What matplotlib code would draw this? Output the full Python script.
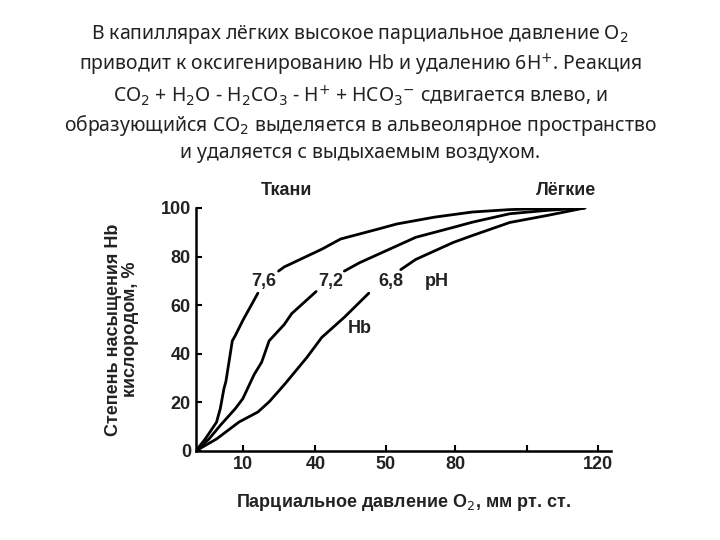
import matplotlib
matplotlib.use("Agg")
import matplotlib.pyplot as plt

# x in chart-position units (origin at 0), y in % saturation
x76 = [0, 25, 55, 65, 75, 80, 90, 97, 105, 125, 135, 165]
y76 = [0, 4.9, 11.8, 17.4, 25.8, 28.6, 38.4, 45.3, 47.5, 53.7, 56.5, 64.9]
x76b = [220, 235, 335, 385, 485, 535, 635, 735, 835, 935, 1035]
y76b = [74, 75.7, 83, 87.2, 91.3, 93.4, 96.2, 98.3, 99.3, 99.8, 100]
x72 = [0, 35, 65, 105, 125, 155, 175, 195, 235, 255, 320]
y72 = [0, 4.9, 10.5, 17.4, 21.5, 31.4, 36.5, 45.3, 52, 56.5, 65.6]
x72b = [395, 435, 535, 585, 685, 735, 835, 935, 1035]
y72b = [74, 77.4, 84.4, 87.9, 92, 94.1, 97.6, 99, 100]
x68 = [0, 55, 115, 165, 195, 235, 265, 295, 335, 395, 460]
y68 = [0, 4.9, 11.9, 16, 20.2, 27.2, 32.8, 38.4, 46.7, 55, 64.9]
x68b = [545, 585, 685, 735, 835, 935, 1035]
y68b = [74.6, 78.8, 85.8, 88.6, 94, 96.9, 100]
xtick_pos = [125, 318, 505, 690, 880, 1070]
xtick_lab = ["10", "40", "50", "80", "", "120"]
ytick_pos = [0, 20, 40, 60, 80, 100]

fig = plt.figure(figsize=(7.2, 5.4), dpi=100)
title = ("В капиллярах лёгких высокое парциальное давление O$_2$\n"
         "приводит к оксигенированию Hb и удалению 6H$^{+}$. Реакция\n"
         "CO$_2$ + H$_2$O - H$_2$CO$_3$ - H$^{+}$ + HCO$_3$$^{-}$ сдвигается влево, и\n"
         "образующийся CO$_2$ выделяется в альвеолярное пространство\n"
         "и удаляется с выдыхаемым воздухом.")
fig.text(0.5, 0.958, title, ha="center", va="top", fontsize=14,
         family="Noto Sans", linespacing=1.3, color="#222222")

ax = fig.add_axes([0.272, 0.165, 0.577, 0.45])
kw = dict(color="black", lw=2.0, solid_capstyle="round", solid_joinstyle="round")
for a, b in [(x76, y76), (x76b, y76b), (x72, y72), (x72b, y72b), (x68, y68), (x68b, y68b)]:
    ax.plot(a, b, **kw)
ax.set_xlim(0, 1105)
ax.set_ylim(0, 100)
for s in ["top", "right"]:
    ax.spines[s].set_visible(False)
for s in ["left", "bottom"]:
    ax.spines[s].set_linewidth(1.8)
ax.set_xticks(xtick_pos)
ax.set_xticklabels(xtick_lab)
ax.set_yticks(ytick_pos)
ax.tick_params(direction="in", width=1.5, length=4, labelsize=13)
for t in ax.get_xticklabels() + ax.get_yticklabels():
    t.set_fontweight("bold"); t.set_family("Liberation Sans"); t.set_color("#222222")
fk = dict(family="Liberation Sans", fontweight="bold", fontsize=13, color="#222222")
ax.text(180, 69.7, "7,6", ha="center", va="center", **fk)
ax.text(360, 69.7, "7,2", ha="center", va="center", **fk)
ax.text(520, 69.7, "6,8", ha="center", va="center", **fk)
ax.text(640, 69.7, "pH", ha="center", va="center", **fk)
ax.text(435, 50.2, "Hb", ha="center", va="center", **fk)
ax.text(240, 107, "Ткани", ha="center", va="center", clip_on=False, **fk)
ax.text(985, 107, "Лёгкие", ha="center", va="center", clip_on=False, **fk)
ax.set_xlabel("Парциальное давление O$_2$, мм рт. ст.", labelpad=14, **fk)
ax.set_ylabel("Степень насыщения Hb\nкислородом, %", labelpad=16, linespacing=1.0, **fk)
fig.savefig("out.png", dpi=100)
